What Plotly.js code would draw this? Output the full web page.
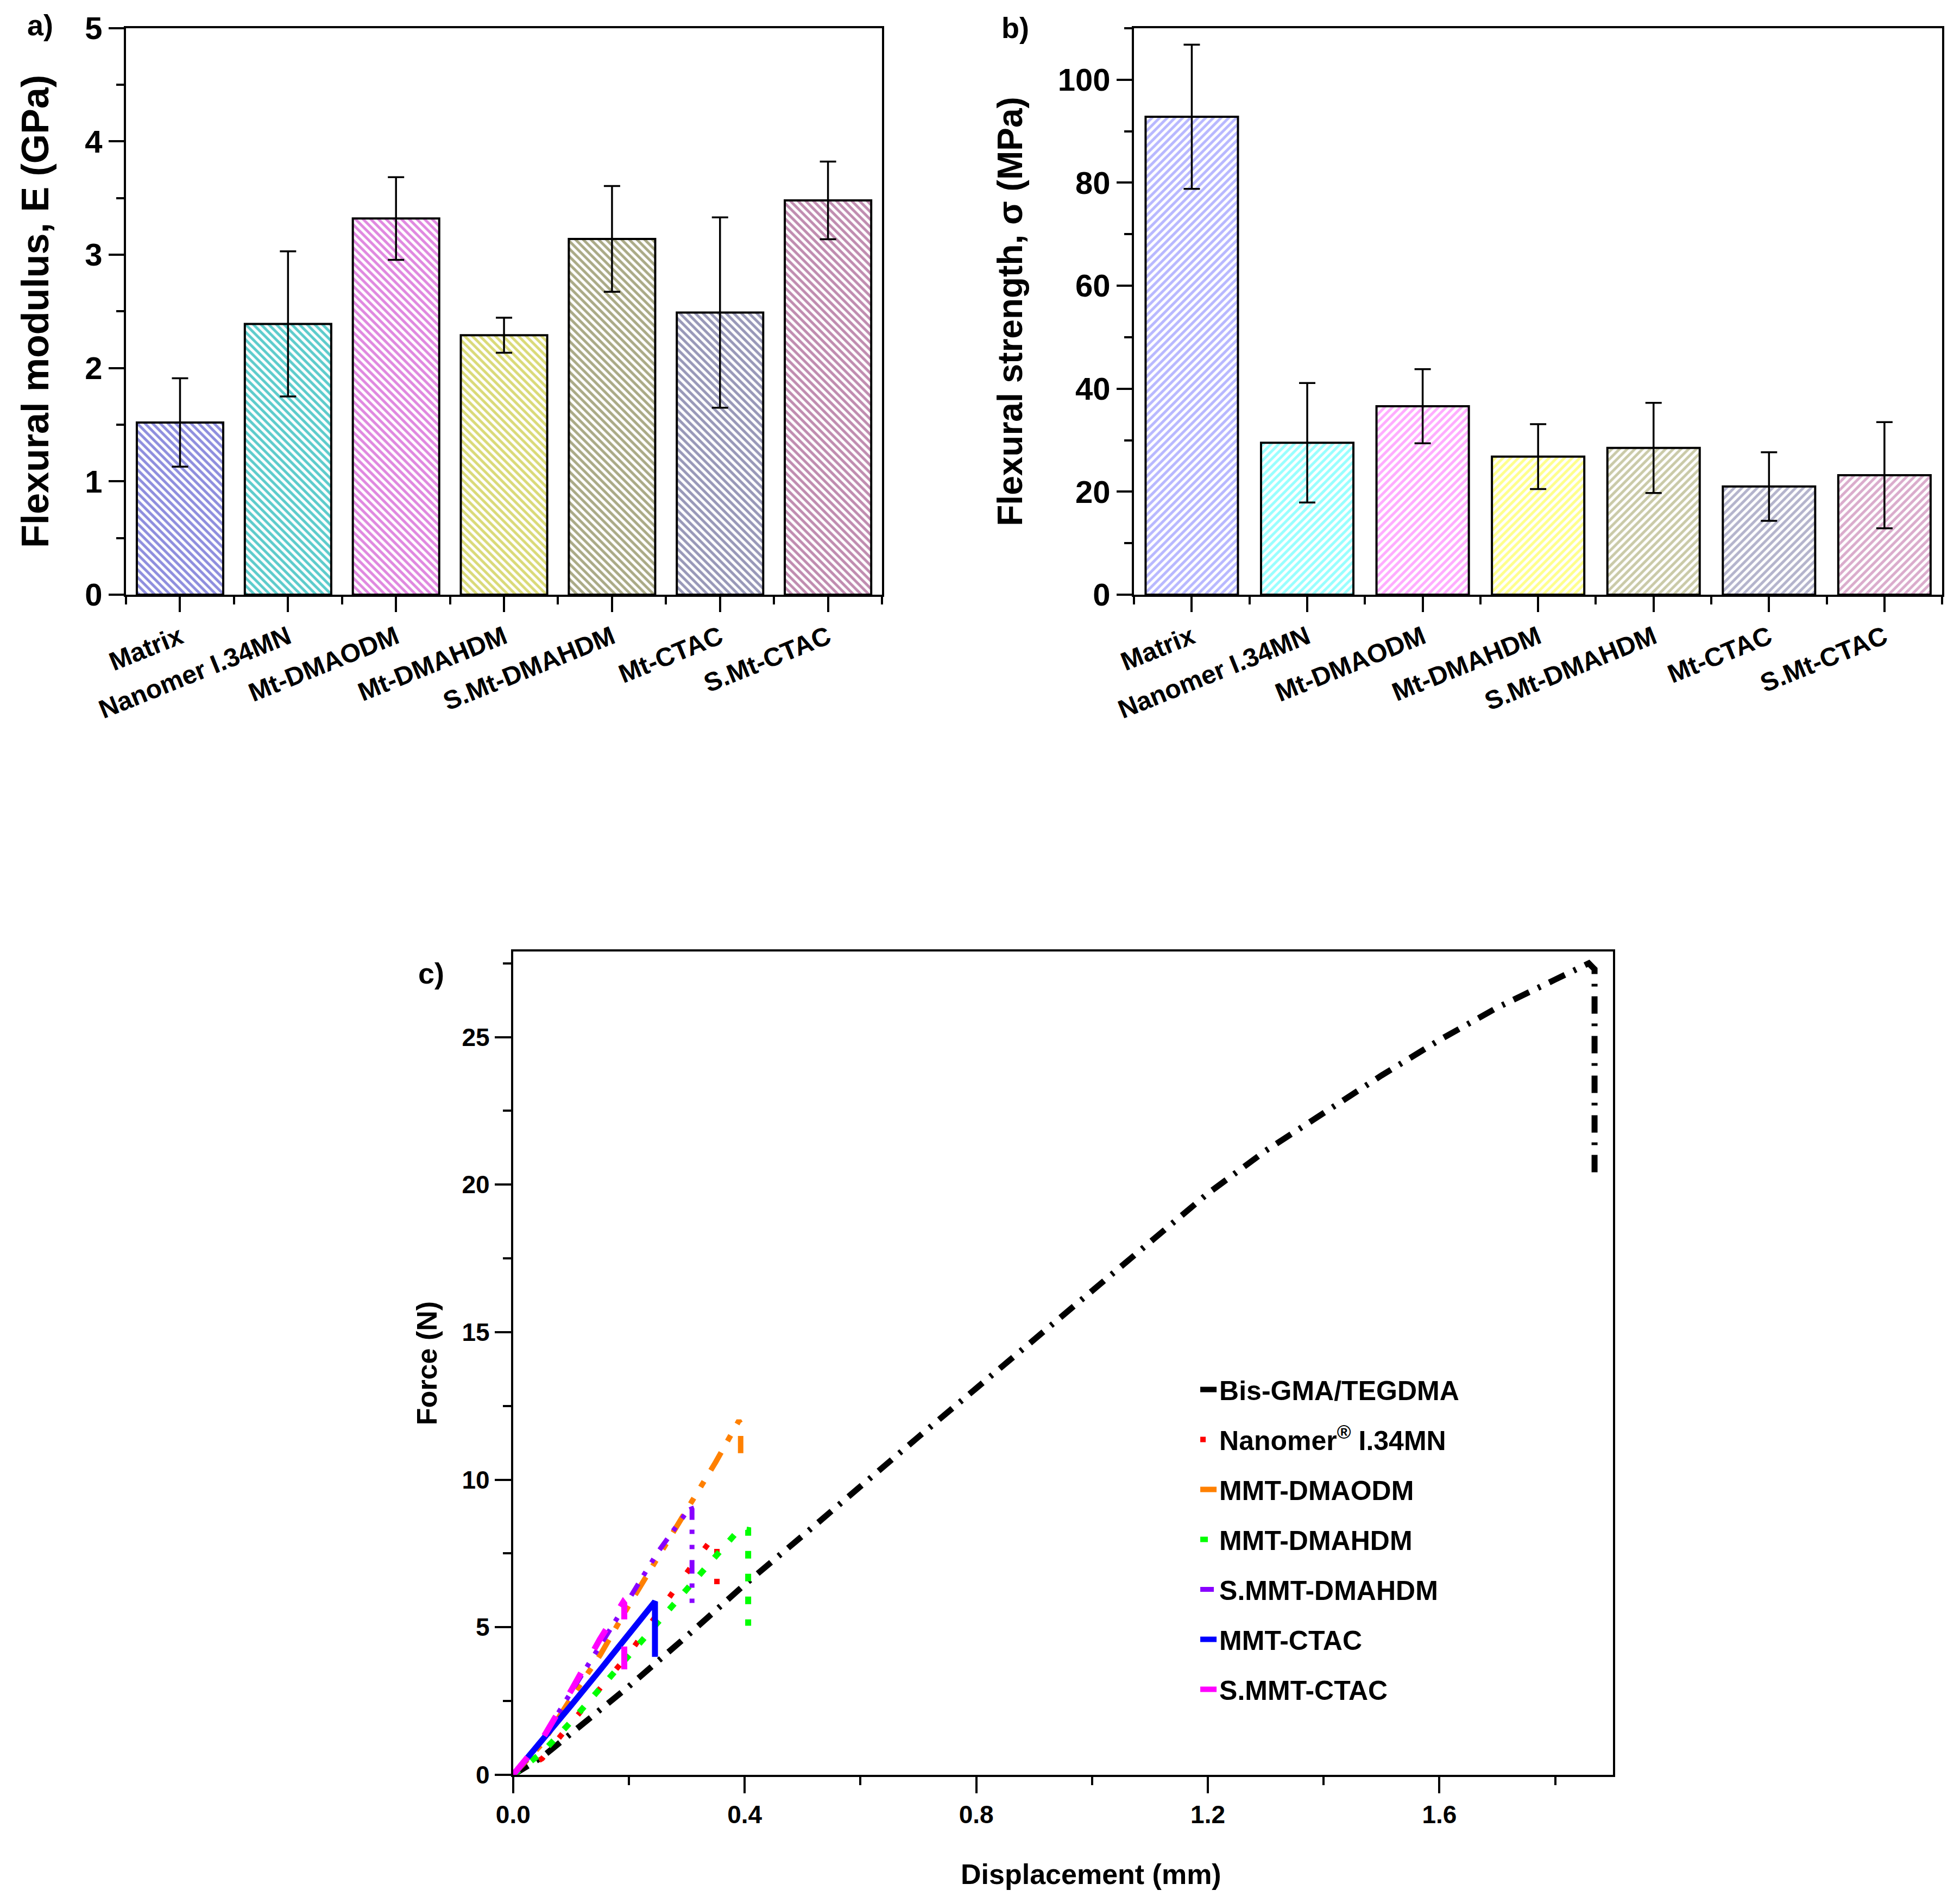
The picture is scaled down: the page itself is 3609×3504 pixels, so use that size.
<!DOCTYPE html>
<html>
<head>
<meta charset="utf-8">
<script src="https://cdn.plot.ly/plotly-3.0.1.min.js"></script>
<style>html,body{margin:0;padding:0;background:#ffffff;}</style>
</head>
<body>
<div id="chart" style="width:3609px;height:3504px;"></div>
<script>
// ---------------- data ----------------
const categories = ['Matrix', 'Nanomer I.34MN', 'Mt-DMAODM', 'Mt-DMAHDM', 'S.Mt-DMAHDM', 'Mt-CTAC', 'S.Mt-CTAC'];
const modulus    = [1.52, 2.39, 3.32, 2.29, 3.14, 2.49, 3.48];
const modulusErr = [0.39, 0.64, 0.365, 0.155, 0.467, 0.84, 0.343];
const strength    = [92.8, 29.5, 36.6, 26.8, 28.5, 21.0, 23.2];
const strengthErr = [14.0, 11.6, 7.2, 6.3, 8.75, 6.65, 10.3];

const yTicksA = [0, 1, 2, 3, 4, 5];
const yTicksB = [0, 20, 40, 60, 80, 100];
const xTicksC = [0.0, 0.4, 0.8, 1.2, 1.6];
const yTicksC = [0, 5, 10, 15, 20, 25];

const seriesNames = ['Bis-GMA/TEGDMA', 'Nanomer<sup>®</sup> I.34MN', 'MMT-DMAODM', 'MMT-DMAHDM', 'S.MMT-DMAHDM', 'MMT-CTAC', 'S.MMT-CTAC'];

const bisX = [0, 0.05, 0.1, 0.2, 0.3, 0.4, 0.5, 0.6, 0.7, 0.8, 0.9, 1.0, 1.1, 1.2, 1.3, 1.4, 1.5, 1.6, 1.7, 1.8, 1.858, 1.868, 1.868];
const bisY = [0, 0.6, 1.4, 3.0, 4.7, 6.45, 8.1, 9.8, 11.45, 13.1, 14.75, 16.4, 18.05, 19.7, 21.15, 22.45, 23.7, 24.9, 26.0, 26.95, 27.5, 27.3, 20.2];

const nanX = [0, 0.05, 0.1, 0.2, 0.3, 0.347, 0.352, 0.352];
const nanY = [0, 0.55, 1.75, 4.1, 6.85, 8.1, 7.9, 6.3];

const odmX = [0, 0.05, 0.1, 0.15, 0.2, 0.25, 0.3, 0.35, 0.39, 0.393, 0.393];
const odmY = [0, 1.05, 2.6, 4.05, 5.75, 7.38, 8.95, 10.6, 12.0, 11.9, 10.9];

const ahdX = [0, 0.05, 0.1, 0.15, 0.2, 0.25, 0.3, 0.35, 0.392, 0.406, 0.406];
const ahdY = [0, 0.75, 1.8, 2.92, 4.05, 5.2, 6.35, 7.45, 8.35, 8.3, 5.05];

const sahdX = [0, 0.05, 0.1, 0.15, 0.2, 0.25, 0.3, 0.307, 0.309, 0.309];
const sahdY = [0, 1.2, 2.8, 4.35, 5.95, 7.55, 8.95, 9.1, 9.0, 5.6];

const ctacX = [0, 0.05, 0.1, 0.15, 0.2, 0.245, 0.245];
const ctacY = [0, 1.15, 2.35, 3.55, 4.8, 5.87, 4.0];

const sctacX = [0, 0.05, 0.1, 0.15, 0.19, 0.192, 0.192];
const sctacY = [0, 1.2, 2.85, 4.6, 5.85, 5.8, 3.4];

// ---------------- styles ----------------
const FONT = 'Liberation Sans, Arial, sans-serif';
const fgColorsA = ['#2424ff', '#00d8d8', '#ff28ff', '#e8e800', '#6c6c2c', '#1c1c78', '#961478'];
const bgColorsA = ['#8e8ede', '#5ccccc', '#e088e0', '#dada78', '#aaaa86', '#9898b8', '#c08cb0'];
const fgColorsB = ['#3030ff', '#00e4e4', '#ff30ff', '#eeee00', '#74743a', '#2c2c7c', '#9c2480'];
const bgColorsB = ['#b8b8ff', '#98ffff', '#ffacff', '#ffff8c', '#cacaa8', '#b4b4cc', '#daaccc'];

const idx = categories.map((c, i) => i);

function barTrace(vals, errs, bg, fg, shape, xa, ya) {
  return {
    type: 'bar', x: idx, y: vals, xaxis: xa, yaxis: ya, width: 0.8, showlegend: false,
    marker: {
      color: bg,
      line: {color: '#000000', width: 4},
      pattern: {shape: shape, fgcolor: fg, size: 10, solidity: 0.5, fillmode: 'replace'}
    },
    error_y: {type: 'data', array: errs, visible: true, color: '#000000', thickness: 3.5, width: 15}
  };
}

function lineTrace(x, y, name, color, width, dash, g) {
  return {
    type: 'scatter', mode: 'lines', x: x, y: y, name: name, xaxis: 'x3', yaxis: 'y3',
    legendgroup: g, line: {color: color, width: width, dash: dash}
  };
}

const data = [
  barTrace(modulus, modulusErr, bgColorsA, fgColorsA, '\\', 'x', 'y'),
  barTrace(strength, strengthErr, bgColorsB, fgColorsB, '/', 'x2', 'y2'),
  lineTrace(bisX, bisY, seriesNames[0], '#000000', 11, '32px,18px,5px,18px', 'g1'),
  lineTrace(nanX, nanY, seriesNames[1], '#ff0000', 10, '10px,45px', 'g2'),
  lineTrace(odmX, odmY, seriesNames[2], '#ff8000', 10, '38px,24px,12px,24px,12px,24px', 'g3'),
  lineTrace(ahdX, ahdY, seriesNames[3], '#00ff00', 11, '14px,28px', 'g4'),
  lineTrace(sahdX, sahdY, seriesNames[4], '#8800ff', 9, '25px,18px,8px,20px,8px,20px', 'g5'),
  lineTrace(ctacX, ctacY, seriesNames[5], '#0000ff', 11, 'solid', 'g6'),
  lineTrace(sctacX, sctacY, seriesNames[6], '#ff00ff', 11, '42px,50px', 'g7')
];

const bold = (s) => ({family: FONT, size: s, color: '#000000', weight: 'bold'});

function catAxis(domain, anchor) {
  return {
    domain: domain, anchor: anchor, range: [-0.5, 6.5],
    tickmode: 'array', tickvals: idx, ticktext: categories, tickangle: -22,
    ticks: 'outside', ticklen: 28, tickwidth: 4, tickcolor: '#000',
    minor: {tick0: 0.5, dtick: 1, ticks: 'outside', ticklen: 14, tickwidth: 4, tickcolor: '#000', showgrid: false},
    showline: true, linewidth: 4, linecolor: '#000', mirror: true,
    showgrid: false, zeroline: false, tickfont: bold(48), fixedrange: true
  };
}

const layout = {
  width: 3609, height: 3504,
  margin: {l: 0, r: 0, t: 0, b: 0},
  paper_bgcolor: '#ffffff', plot_bgcolor: '#ffffff',
  font: {family: FONT, color: '#000'},
  showlegend: true,
  legend: {
    x: 0.611, y: 0.281, xanchor: 'left', yanchor: 'top',
    font: bold(50), bgcolor: 'rgba(0,0,0,0)', borderwidth: 0,
    tracegroupgap: 24, traceorder: 'grouped'
  },
  xaxis: catAxis([0.0643, 0.4500], 'y'),
  yaxis: {
    domain: [0.6875, 0.9852], anchor: 'x', range: [0, 5],
    tickmode: 'array', tickvals: yTicksA,
    ticks: 'outside', ticklen: 28, tickwidth: 4, tickcolor: '#000',
    minor: {dtick: 0.5, ticks: 'outside', ticklen: 14, tickwidth: 4, tickcolor: '#000', showgrid: false},
    showline: true, linewidth: 4, linecolor: '#000', mirror: true,
    showgrid: false, zeroline: false, tickfont: bold(58),
    title: {text: 'Flexural modulus, E (GPa)', font: bold(70), standoff: 45}
  },
  xaxis2: catAxis([0.5786, 0.9909], 'y2'),
  yaxis2: {
    domain: [0.6875, 0.9852], anchor: 'x2', range: [0, 110],
    tickmode: 'array', tickvals: yTicksB,
    ticks: 'outside', ticklen: 28, tickwidth: 4, tickcolor: '#000',
    minor: {dtick: 10, ticks: 'outside', ticklen: 14, tickwidth: 4, tickcolor: '#000', showgrid: false},
    showline: true, linewidth: 4, linecolor: '#000', mirror: true,
    showgrid: false, zeroline: false, tickfont: bold(58),
    title: {text: 'Flexural strength, σ (MPa)', font: bold(64), standoff: 45}
  },
  xaxis3: {
    domain: [0.2618, 0.8230], anchor: 'y3', range: [0, 1.9],
    tickmode: 'array', tickvals: xTicksC, tickformat: '.1f',
    ticks: 'outside', ticklen: 30, tickwidth: 4, tickcolor: '#000',
    minor: {dtick: 0.2, ticks: 'outside', ticklen: 15, tickwidth: 4, tickcolor: '#000', showgrid: false},
    showline: true, linewidth: 4, linecolor: '#000', mirror: true,
    showgrid: false, zeroline: false, tickfont: bold(46)
  },
  yaxis3: {
    domain: [0.06735, 0.5], anchor: 'x3', range: [0, 27.9],
    tickmode: 'array', tickvals: yTicksC,
    ticks: 'outside', ticklen: 30, tickwidth: 4, tickcolor: '#000',
    minor: {dtick: 2.5, ticks: 'outside', ticklen: 15, tickwidth: 4, tickcolor: '#000', showgrid: false},
    showline: true, linewidth: 4, linecolor: '#000', mirror: true,
    showgrid: false, zeroline: false, tickfont: bold(46),
    title: {text: 'Force (N)', font: bold(52), standoff: 30}
  },
  annotations: [
    {text: 'a)', xref: 'paper', yref: 'paper', x: 0.0205, y: 0.9868, xanchor: 'center', yanchor: 'middle', showarrow: false, font: bold(54)},
    {text: 'b)', xref: 'paper', yref: 'paper', x: 0.518, y: 0.9855, xanchor: 'center', yanchor: 'middle', showarrow: false, font: bold(54)},
    {text: 'c)', xref: 'paper', yref: 'paper', x: 0.220, y: 0.4885, xanchor: 'center', yanchor: 'middle', showarrow: false, font: bold(54)},
    {text: 'Displacement (mm)', xref: 'paper', yref: 'paper', x: 0.5568, y: 0.0152, xanchor: 'center', yanchor: 'middle', showarrow: false, font: bold(52)}
  ]
};

Plotly.newPlot('chart', data, layout, {staticPlot: true, displayModeBar: false});
</script>
</body>
</html>
